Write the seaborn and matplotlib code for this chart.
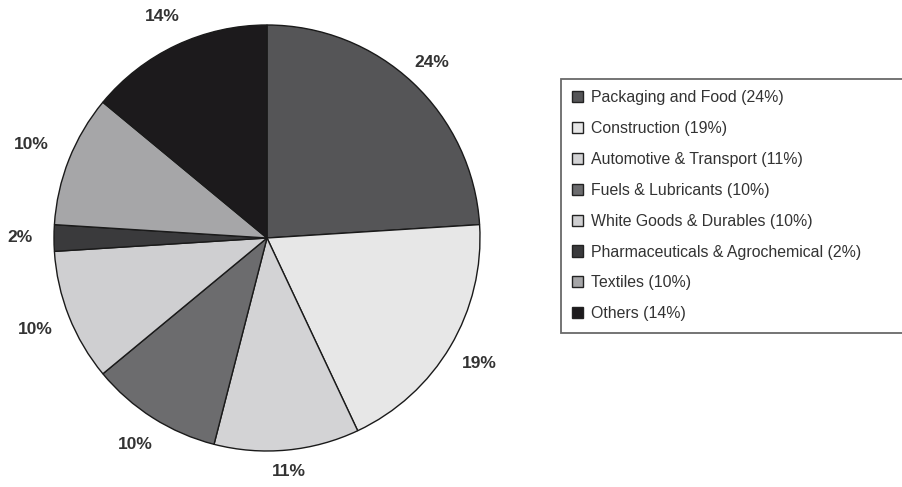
import numpy as np
import matplotlib
matplotlib.use("Agg")
import matplotlib.pyplot as plt
import seaborn as sns
from matplotlib.patches import Patch

sns.set_theme(style="white")
plt.rcParams["font.family"] = ["Liberation Sans", "DejaVu Sans"]

# Market share by end-use sector
sectors = [
    "Packaging and Food",
    "Construction",
    "Automotive & Transport",
    "Fuels & Lubricants",
    "White Goods & Durables",
    "Pharmaceuticals & Agrochemical",
    "Textiles",
    "Others",
]
shares = [24, 19, 11, 10, 10, 2, 10, 14]
greys = ["#555557", "#e7e7e7", "#d3d3d5", "#6c6c6e",
         "#cfcfd1", "#3a3a3c", "#a6a6a8", "#1c1a1c"]
# radial offset of each percentage label, in pie radii
label_radius = [1.13, 1.16, 1.10, 1.15, 1.17, 1.16, 1.19, 1.15]

fig = plt.figure(figsize=(9.02, 4.87), dpi=100)
ax = fig.add_axes([54 / 902, 1 - 451 / 487, 426 / 902, 426 / 487])

wedges, _ = ax.pie(
    shares,
    colors=greys,
    startangle=90,
    counterclock=False,
    radius=1.0,
    wedgeprops=dict(edgecolor="#1a1a1a", linewidth=1.0),
)
for w, v, r in zip(wedges, shares, label_radius):
    mid = np.deg2rad((w.theta1 + w.theta2) / 2)
    ax.text(r * np.cos(mid), r * np.sin(mid), f"{v}%",
            ha="center", va="center", fontsize=12.5, fontweight="bold",
            color="#333333", clip_on=False)

ax.set_xlim(-1, 1)
ax.set_ylim(-1, 1)
ax.set_aspect("equal")
ax.axis("off")

handles = [Patch(facecolor=c, edgecolor="#222222", linewidth=1.0) for c in greys]
labels = [f"{s} ({v}%)" for s, v in zip(sectors, shares)]
leg = fig.legend(
    handles, labels,
    loc="upper left",
    bbox_to_anchor=(561 / 902, 1 - 329 / 487, 0.45, 250 / 487),
    mode="expand",
    frameon=True,
    fancybox=False,
    fontsize=11.4,
    handlelength=0.7,
    handleheight=0.7,
    handletextpad=0.45,
    labelspacing=1.0,
    borderaxespad=0,
    borderpad=0.72,
    labelcolor="#333333",
)
leg.get_frame().set_edgecolor("#444444")
leg.get_frame().set_linewidth(1.3)

fig.savefig("out.png", dpi=100)
